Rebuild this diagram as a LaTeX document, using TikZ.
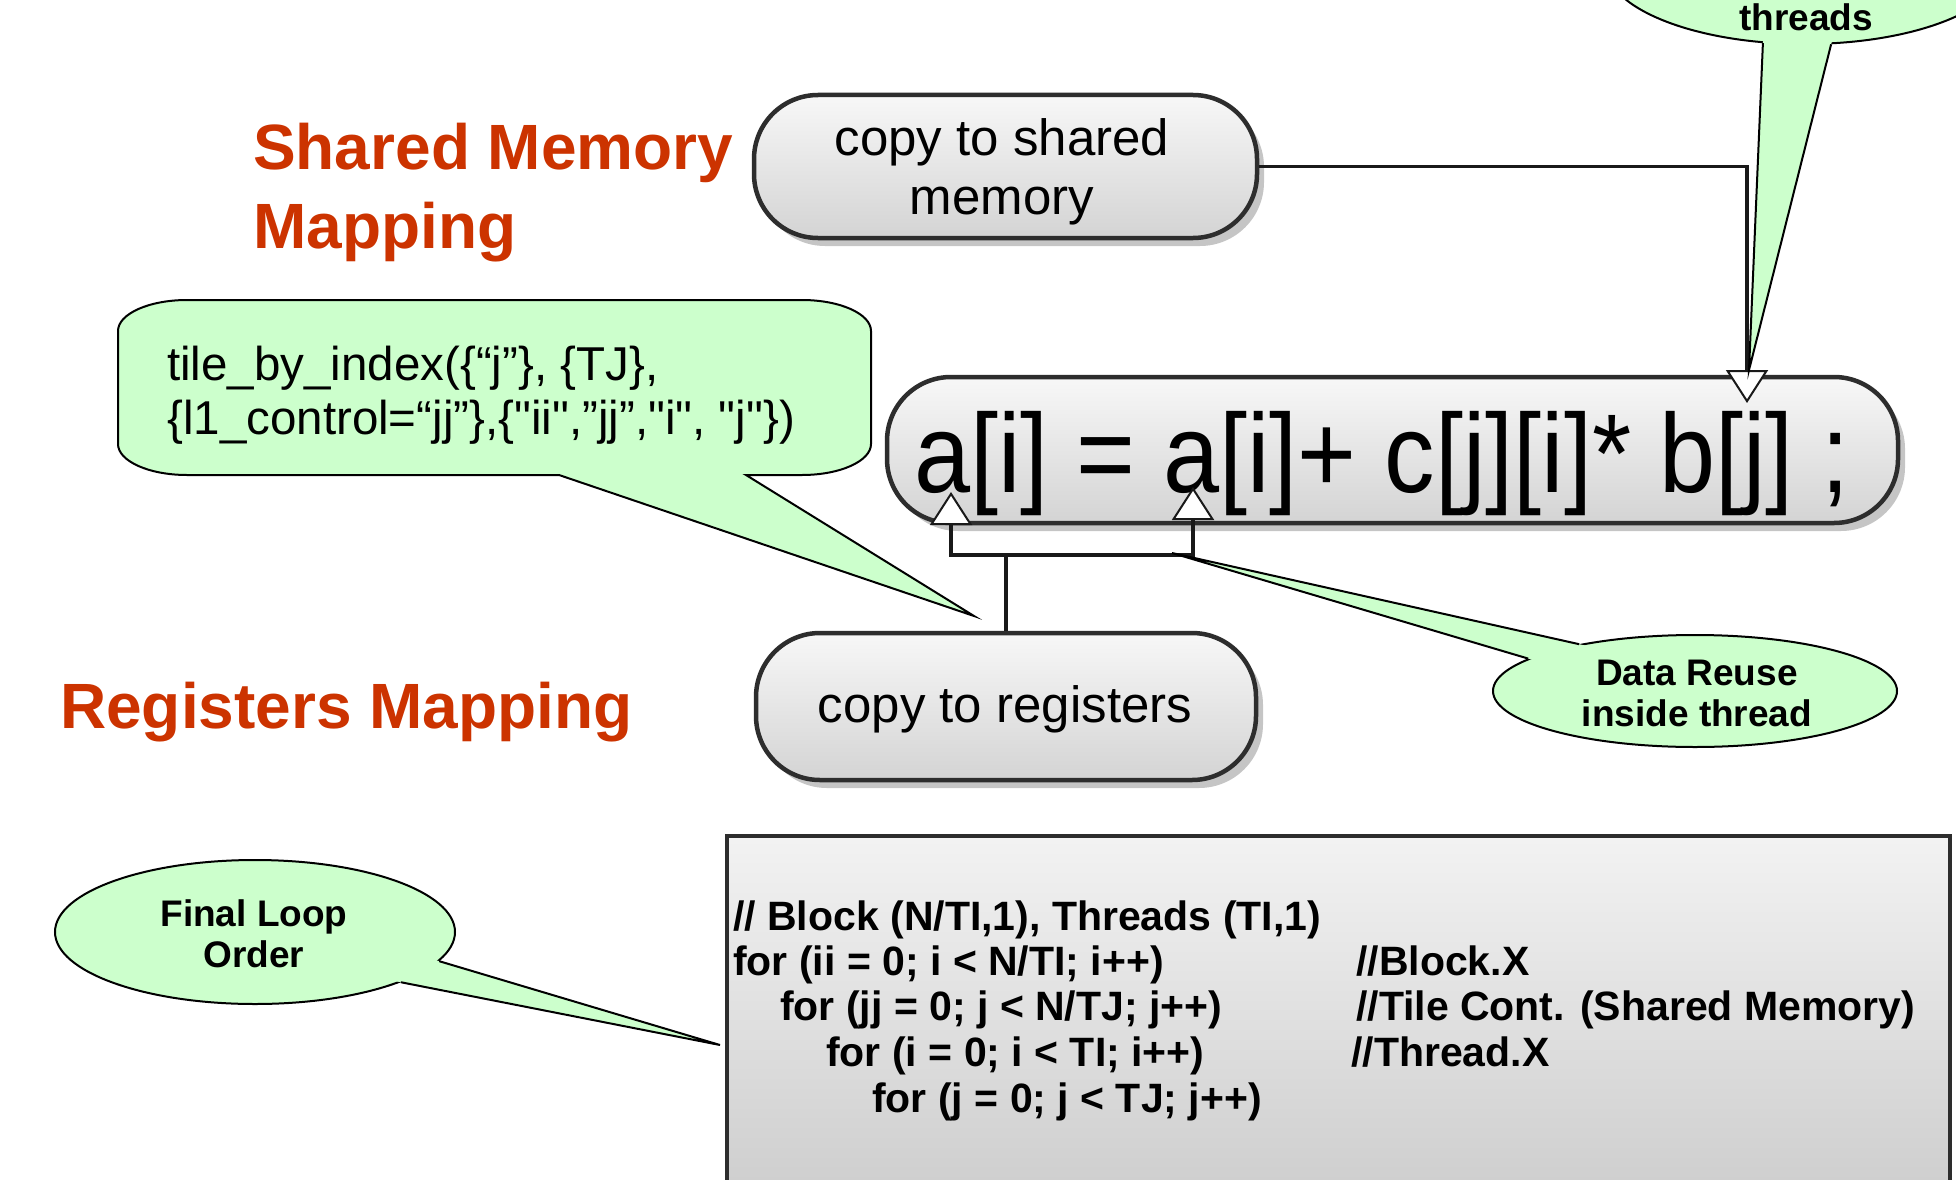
\documentclass[tikz,border=0pt]{standalone}
\usepackage{fontspec}
\setmainfont{Liberation Sans}
\newfontfamily\eqfont{Liberation Sans}[FakeStretch=0.9]
\newfontfamily\tilefont{Liberation Sans}[Ligatures=TeXOff]
\usetikzlibrary{arrows.meta,shapes.geometric,shadows,calc}
\definecolor{headred}{RGB}{204,51,0}
\definecolor{balloongreen}{RGB}{204,255,204}
\definecolor{boxline}{RGB}{45,45,45}
\tikzset{
  heading/.style={text=headred, font=\bfseries\fontsize{64}{77}\selectfont, inner sep=0pt, anchor=base west},
  stadium/.style={draw=boxline, line width=4.5pt, rounded corners=64pt, top color=black!3, bottom color=black!17,
    drop shadow={shadow xshift=7pt, shadow yshift=-8pt, fill=black!50, opacity=0.45}, inner sep=0pt},
  boxtext/.style={font=\fontsize{51}{59}\selectfont, inner sep=0pt, anchor=base},
  bubble/.style={ellipse, fill=balloongreen, draw=black, line width=2pt, inner sep=0pt},
  bubbletext/.style={font=\bfseries\fontsize{37}{41}\selectfont, align=center, inner sep=0pt},
  tailline/.style={draw=black, line width=2pt, line join=miter},
  conn/.style={draw=black!90, line width=3.2pt},
  hollow/.style={-{Triangle[fill=white, length=33pt, width=42pt, line width=2pt]}},
  codetext/.style={font=\bfseries\fontsize{41}{46}\selectfont, inner sep=0pt, anchor=base west},
  tiletext/.style={font=\tilefont\fontsize{47.5}{52}\selectfont, inner sep=0pt, anchor=base west},
}
\begin{document}
\begin{tikzpicture}[x=1pt,y=-1pt]
\useasboundingbox (0,0) rectangle (1956,1180);
\fill[white] (0,0) rectangle (1956,1180);
\clip (0,0) rectangle (1956,1180);

% headings
\node[heading] (shm1) at (253,169) {Shared Memory};
\node[heading] (shm2) at (253,248) {Mapping};
\node[heading] (regmap) at (60,728) {Registers Mapping};

% stadium boxes
\node[stadium, minimum width=503pt, minimum height=143pt] (shared) at (1005.5,166.5) {};
\node[boxtext] (sharedt1) at (1002,155) {copy to shared};
\node[boxtext] (sharedt2) at (1002,214) {memory};

\node[stadium, minimum width=1011pt, minimum height=146pt] (eq) at (1392.5,450) {};
\node[inner sep=0pt, anchor=base west, font=\eqfont\fontsize{112}{120}\selectfont] (eqtext) at (914,492) {a[i] = a[i]+ c[j][i]* b[j] ;};

\node[stadium, minimum width=500pt, minimum height=147pt] (regs) at (1006,706.5) {};
\node[boxtext] (regst) at (1005,722) {copy to registers};

% code box
\node[draw=boxline, line width=4.5pt, top color=black!5, bottom color=black!19, minimum width=1223pt, minimum height=350pt, inner sep=0pt] (code) at (1338.5,1011) {};
\node[codetext] (c1) at (733,930) {// Block (N/TI,1), Threads (TI,1)};
\node[codetext] (c2) at (733,975) {for (ii = 0; i < N/TI; i++)};
\node[codetext] (c3) at (780,1020) {for (jj = 0; j < N/TJ; j++)};
\node[codetext] (c4) at (826,1066) {for (i = 0; i < TI; i++)};
\node[codetext] (c5) at (872,1112) {for (j = 0; j < TJ; j++)};
\node[codetext] (m2) at (1356,975) {//Block.X};
\node[codetext] (m3) at (1356,1020) {//Tile Cont. (Shared Memory)};
\node[codetext] (m4) at (1351,1066) {//Thread.X};

% connectors
\coordinate (shtip) at (1747,403);
\draw[conn, hollow] (shared.east) -| (shtip);
\coordinate (jy) at (0,555);
\coordinate (junction) at (regs.north |- jy);
\coordinate (tipL) at (951,492);
\coordinate (tipR) at (1193,487);
\draw[conn] (regs.north) -- (junction);
\draw[conn, hollow] (junction) -| (tipL);
\draw[conn, hollow] (junction) -| (tipR);

% tile callout
\coordinate (tiletip) at (974,616);
\path[fill=balloongreen, draw=black, line width=2pt, line join=miter]
  (559,475) -- (tiletip) -- (746,475) -- (802,475)
  .. controls (840.1,475) and (871,461.1) .. (871,444) -- (871,331)
  .. controls (871,313.9) and (840.1,300) .. (802,300) -- (187,300)
  .. controls (148.9,300) and (118,313.9) .. (118,331) -- (118,444)
  .. controls (118,461.1) and (148.9,475) .. (187,475) -- cycle;
\node[tiletext] (tile1) at (167,380) {tile\_by\_index(\{“j”\}, \{TJ\},};
\node[tiletext] (tile2) at (167,434) {\{l1\_control=“jj”\},\{"ii",”jj”,"i", "j"\})};

% Data reuse inside thread balloon
\node[bubble, minimum width=404pt, minimum height=112pt] (reuse) at (1695,691) {};
\coordinate (reusetip) at (1172,553);
\fill[balloongreen] ($(reusetip)!1.03!(reuse.158.7)$) -- (reusetip) -- ($(reusetip)!1.03!(reuse.169.4)$) -- cycle;
\draw[tailline] (reuse.158.7) -- (reusetip) -- (reuse.169.4);
\node[bubbletext] (reuset) at (1697,693) {Data Reuse\\inside thread};

% Final loop order balloon
\node[bubble, minimum width=400pt, minimum height=144pt] (final) at (255,932) {};
\coordinate (finaltip) at (720,1045);
\fill[balloongreen] ($(finaltip)!1.03!(final.-9.4)$) -- (finaltip) -- ($(finaltip)!1.03!(final.-19.5)$) -- cycle;
\draw[tailline] (final.-9.4) -- (finaltip) -- (final.-19.5);
\node[bubbletext] (finalt) at (254,934) {Final Loop\\Order};

% threads balloon (top right, cut by the frame)
\node[bubble, minimum width=400pt, minimum height=160pt] (thr) at (1805,-36) {};
\coordinate (thrtip) at (1749,370);
\fill[balloongreen] ($(thrtip)!1.03!(thr.-118.9)$) -- (thrtip) -- ($(thrtip)!1.03!(thr.-72.4)$) -- cycle;
\draw[tailline] (thr.-118.9) -- (thrtip) -- (thr.-72.4);
\node[font=\bfseries\fontsize{37}{41}\selectfont, inner sep=0pt, anchor=base] (thrt) at (1806,31) {threads};
\end{tikzpicture}
\end{document}
